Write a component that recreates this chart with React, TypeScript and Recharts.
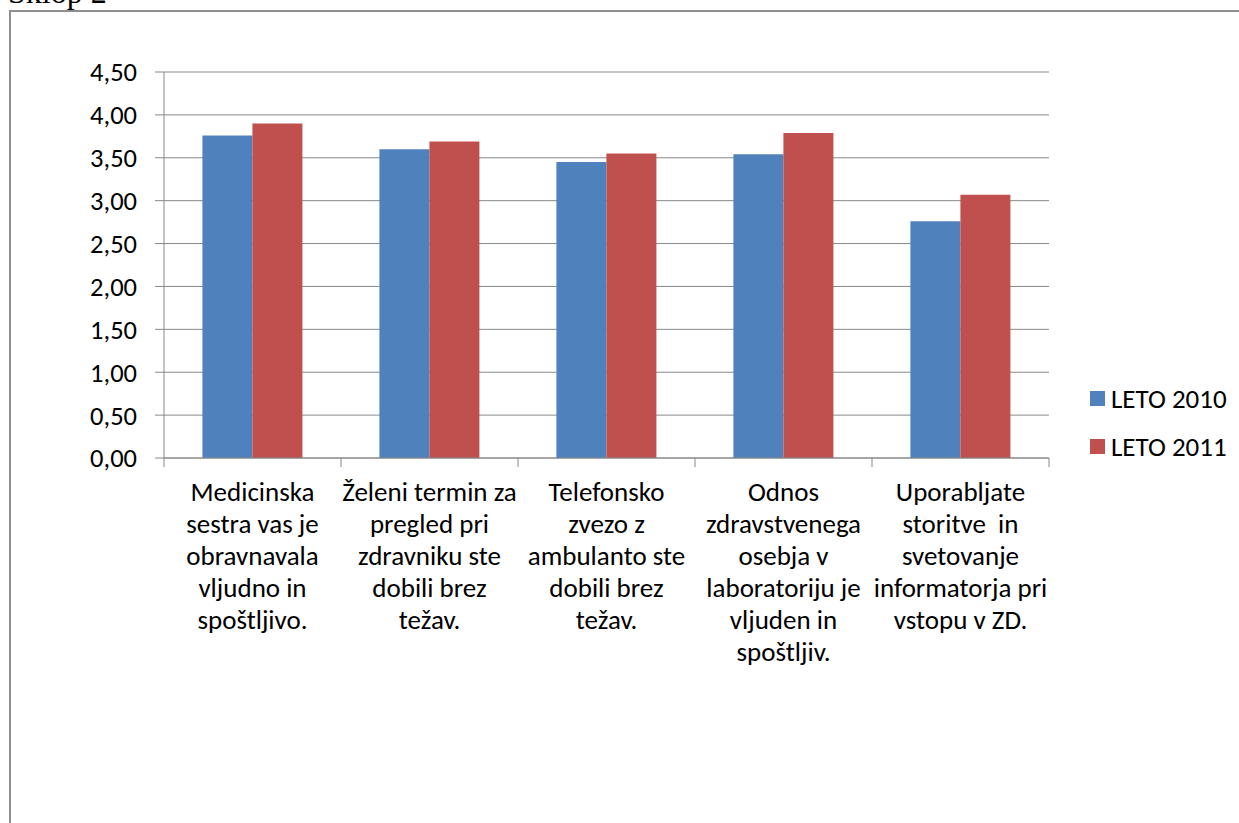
import React from 'react'
import { BarChart, Bar, XAxis, YAxis, CartesianGrid, Legend } from 'recharts'

// Sklop 2 – ocene 2010 / 2011
const categories = [
  'Medicinska\nsestra vas je\nobravnavala\nvljudno in\nspoštljivo.',
  'Želeni termin za\npregled pri\nzdravniku ste\ndobili brez\ntežav.',
  'Telefonsko\nzvezo z\nambulanto ste\ndobili brez\ntežav.',
  'Odnos\nzdravstvenega\nosebja v\nlaboratoriju je\nvljuden in\nspoštljiv.',
  'Uporabljate\nstoritve  in\nsvetovanje\ninformatorja pri\nvstopu v ZD.',
]
const leto2010 = [3.76, 3.6, 3.45, 3.54, 2.76]
const leto2011 = [3.9, 3.69, 3.55, 3.79, 3.07]
const yTicks = [0, 0.5, 1, 1.5, 2, 2.5, 3, 3.5, 4, 4.5]

const seriesNames = ['LETO 2010', 'LETO 2011']
const colors = ['#4f81bd', '#c0504d']

const FONT = 'Carlito, Calibri, Lato, "Open Sans", sans-serif'
const GRID = '#888888'

const data = categories.map((name, i) => ({ name, l2010: leto2010[i], l2011: leto2011[i] }))

const fmt = (v: number) => v.toFixed(2).replace('.', ',')

function CategoryTick(props: any) {
  const { x, y, payload, index, visibleTicksCount } = props
  const half = payload?.offset ?? 88.5
  const lines = String(payload.value).split('\n')
  const last = index === (visibleTicksCount ?? categories.length) - 1
  return (
    <g>
      <line x1={x - half} y1={y} x2={x - half} y2={y + 9} stroke={GRID} />
      {last && <line x1={x + half} y1={y} x2={x + half} y2={y + 9} stroke={GRID} />}
      <text
        x={x}
        y={y + 43}
        textAnchor="middle"
        fill="#000"
        fontFamily={FONT}
        fontSize={27}
        style={{ whiteSpace: 'pre' }}
      >
        {lines.map((l, i) => (
          <tspan key={i} x={x} dy={i === 0 ? 0 : 32}>
            {l}
          </tspan>
        ))}
      </text>
    </g>
  )
}

function LegendBox() {
  return (
    <div style={{ fontFamily: FONT, fontSize: 27, color: '#000' }}>
      {seriesNames.map((n, i) => (
        <div key={n} style={{ display: 'flex', alignItems: 'center', height: 48 }}>
          <span style={{ width: 15, height: 15, background: colors[i], marginRight: 6, display: 'inline-block' }} />
          <span>{n}</span>
        </div>
      ))}
    </div>
  )
}

export default function App() {
  return (
    <div style={{ position: 'fixed', left: 0, top: 0, width: 1239, height: 823, overflow: 'hidden', background: '#fff' }}>
      <div
        style={{
          position: 'absolute',
          left: 8,
          top: -24,
          fontFamily: '"Liberation Serif", "Times New Roman", serif',
          fontSize: 32,
          lineHeight: '32px',
          color: '#000',
        }}
      >
        Sklop 2
      </div>
      <div
        style={{
          position: 'absolute',
          left: 8.5,
          top: 9.5,
          width: 1400,
          height: 1000,
          border: '2px solid #8f8f8f',
          boxSizing: 'border-box',
        }}
      />
      <div style={{ position: 'absolute', left: 0, top: 0 }}>
        <BarChart
          width={1239}
          height={823}
          data={data}
          margin={{ top: 72, right: 190, left: 64, bottom: 165 }}
          barCategoryGap="21.7%"
          barGap={0}
        >
          <CartesianGrid vertical={false} stroke={GRID} />
          <XAxis
            dataKey="name"
            interval={0}
            height={200}
            tickLine={false}
            tickSize={0}
            tickMargin={0}
            axisLine={{ stroke: GRID }}
            tick={<CategoryTick />}
          />
          <YAxis
            domain={[0, 4.5]}
            ticks={yTicks}
            width={100}
            tickSize={9}
            tickMargin={18}
            tickFormatter={fmt}
            axisLine={{ stroke: GRID }}
            tickLine={{ stroke: GRID }}
            tick={{ fill: '#000', fontFamily: FONT, fontSize: 26.5 }}
          />
          <Legend
            layout="horizontal"
            align="center"
            verticalAlign="middle"
            content={<LegendBox />}
            wrapperStyle={{ position: 'absolute', left: 1090, top: 374, width: 150 }}
          />
          <Bar dataKey="l2010" name={seriesNames[0]} fill={colors[0]} isAnimationActive={false} />
          <Bar dataKey="l2011" name={seriesNames[1]} fill={colors[1]} isAnimationActive={false} />
        </BarChart>
      </div>
    </div>
  )
}
